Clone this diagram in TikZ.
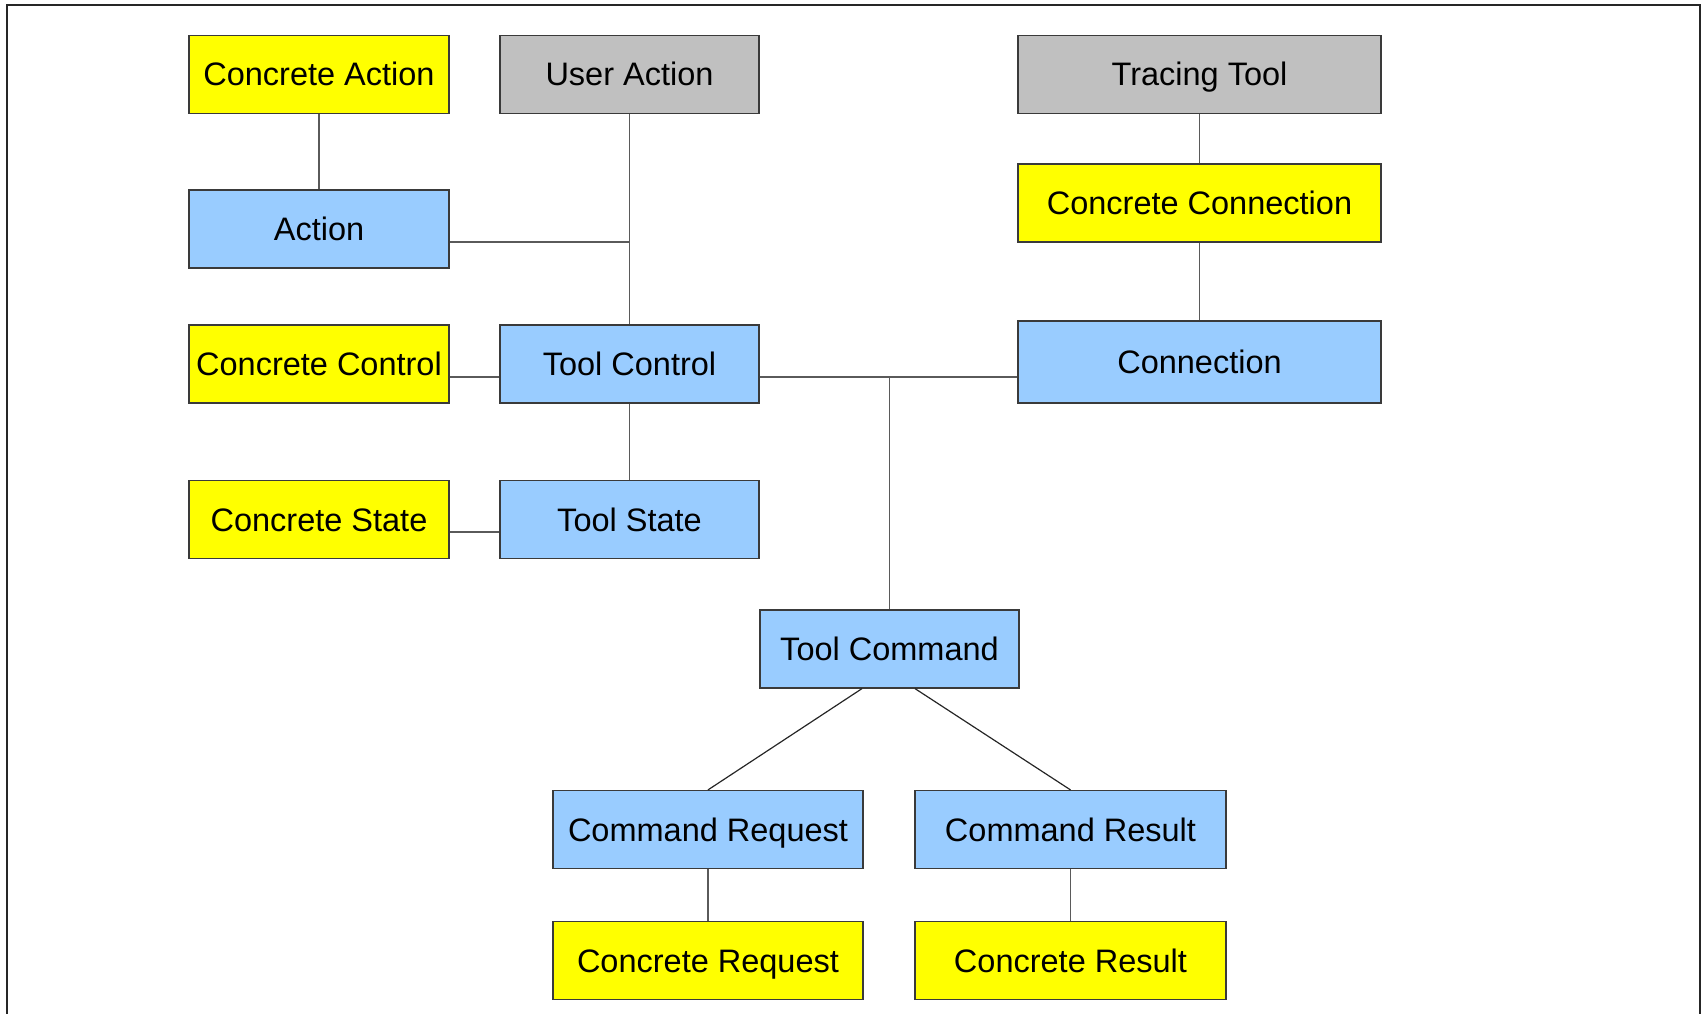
\documentclass[tikz,border=0pt]{standalone}
\usepackage{fontspec}
\setmainfont{Liberation Sans}
\definecolor{cyel}{HTML}{FFFF00}
\definecolor{cblue}{HTML}{99CCFF}
\definecolor{cgrey}{HTML}{C0C0C0}
\definecolor{cedge}{HTML}{3A3A3A}
\definecolor{cline}{HTML}{5A5A5A}
\begin{document}
\begin{tikzpicture}[x=1pt,y=-1pt,
  box/.style={draw=cedge,line width=1.2pt,inner sep=0pt,minimum height=78pt,
    text height=23pt,text depth=0pt,
    font=\fontsize{32.5}{38}\selectfont,text=black},
  ybox/.style={box,fill=cyel},
  bbox/.style={box,fill=cblue},
  gbox/.style={box,fill=cgrey},
  conn/.style={draw=cline,line width=1.2pt}]
\useasboundingbox (0,0) rectangle (1706,1014);
\draw[line width=1.6pt,black!85] (7,1014) -- (7,5) -- (1700,5) -- (1700,1014);
% nodes
\node[ybox,minimum width=260pt] (ca) at (319,74.5) {Concrete Action};
\node[gbox,minimum width=259pt] (ua) at (629.5,74.5) {User Action};
\node[gbox,minimum width=363pt] (tt) at (1199.5,74.5) {Tracing Tool};
\node[bbox,minimum width=260pt] (act) at (319,229) {Action};
\node[ybox,minimum width=363pt] (cc) at (1199.5,203) {Concrete Connection};
\node[ybox,minimum width=260pt] (cctrl) at (319,364) {Concrete Control};
\node[bbox,minimum width=259pt] (tc) at (629.5,364) {Tool Control};
\node[bbox,minimum width=363pt,minimum height=82pt] (cn) at (1199.5,362) {Connection};
\node[ybox,minimum width=260pt] (cs) at (319,519.5) {Concrete State};
\node[bbox,minimum width=259pt] (ts) at (629.5,519.5) {Tool State};
\node[bbox,minimum width=259pt] (tcmd) at (889.5,649) {Tool Command};
\node[bbox,minimum width=310pt] (creq) at (708,829.5) {Command Request};
\node[bbox,minimum width=311pt] (cres) at (1070.5,829.5) {Command Result};
\node[ybox,minimum width=310pt] (conreq) at (708,960.5) {Concrete Request};
\node[ybox,minimum width=311pt] (conres) at (1070.5,960.5) {Concrete Result};
% junctions
\coordinate (j1) at (629.5,242);
\coordinate (j2) at (889.5,377);
\coordinate (j3) at (500,532);
% connectors
\draw[conn] (ca.south) -- (act.north);
\draw[conn] (act.east |- j1) -- (j1);
\draw[conn] (ua.south) -- (tc.north);
\draw[conn] (cctrl.east |- j2) -- (tc.west |- j2);
\draw[conn] (tc.east |- j2) -- (cn.west |- j2);
\draw[conn] (j2) -- (tcmd.north);
\draw[conn] (tc.south) -- (ts.north);
\draw[conn] (cs.east |- j3) -- (ts.west |- j3);
\draw[conn] (tt.south) -- (cc.north);
\draw[conn] (cc.south) -- (cn.north);
\draw[conn,draw=black!85] ([xshift=-27.5pt]tcmd.south) -- (creq.north);
\draw[conn,draw=black!85] ([xshift=25.5pt]tcmd.south) -- (cres.north);
\draw[conn] (creq.south) -- (conreq.north);
\draw[conn] (cres.south) -- (conres.north);
\end{tikzpicture}
\end{document}
